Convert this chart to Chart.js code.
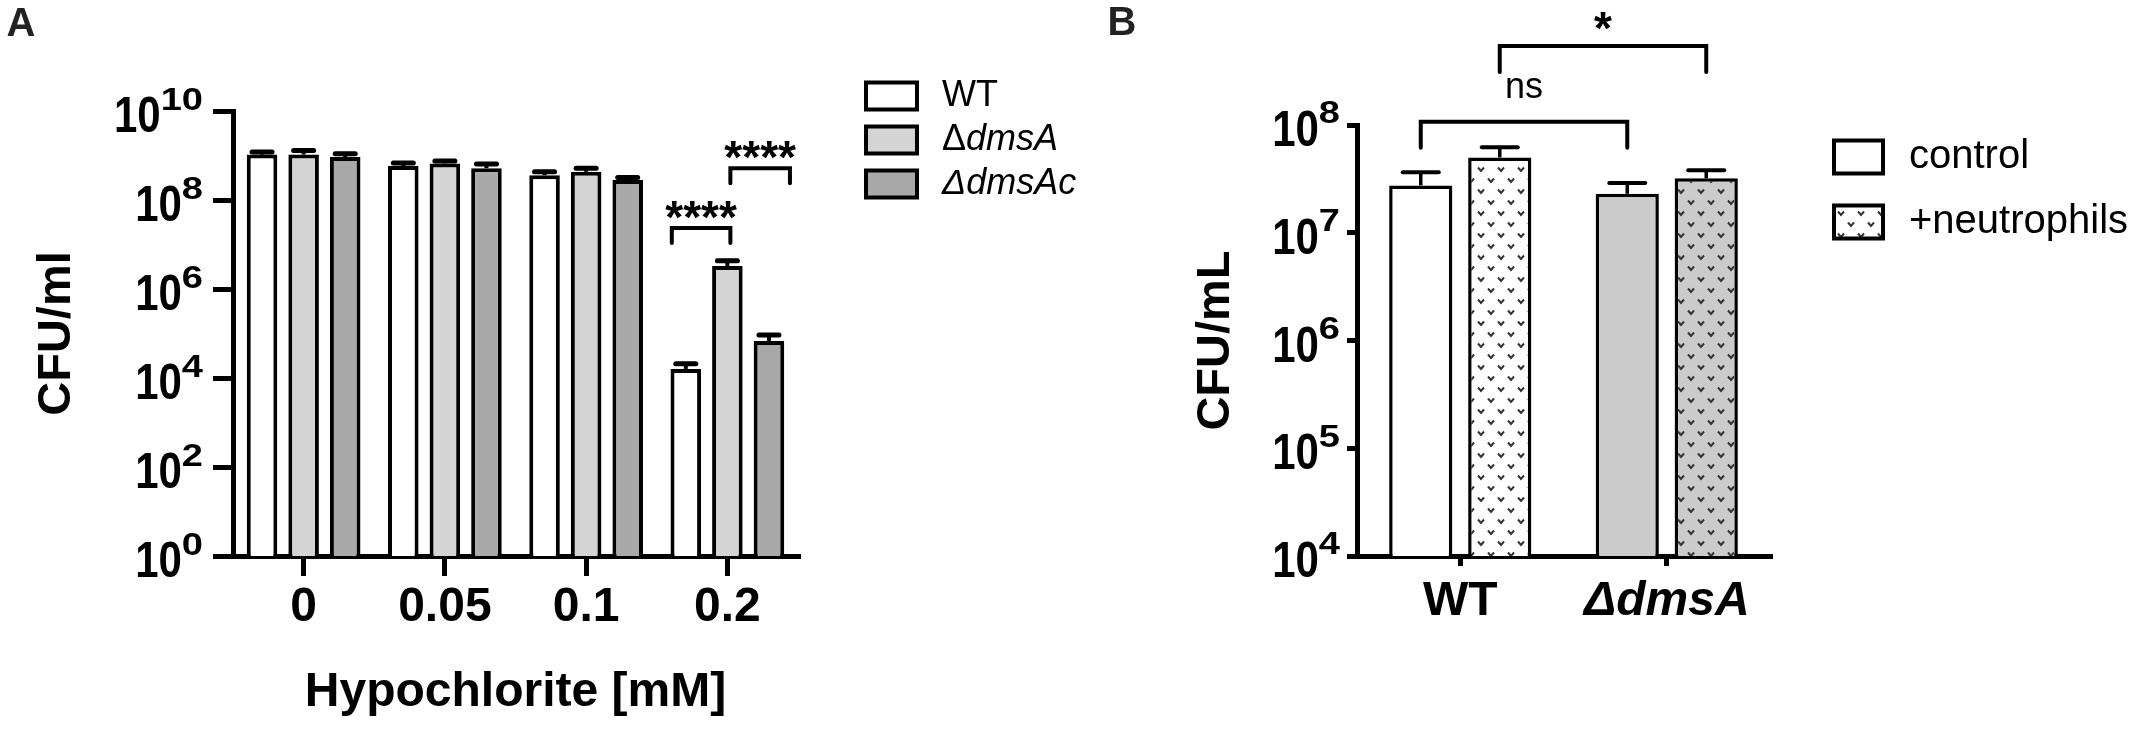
<!DOCTYPE html>
<html>
<head>
<meta charset="utf-8">
<script src="https://cdn.jsdelivr.net/npm/chart.js@4.4.1/dist/chart.umd.min.js"></script>
<style>
  html, body { margin: 0; padding: 0; background: #fff; }
  #wrap { position: relative; width: 2132px; height: 749px; overflow: hidden; }
  .panel { position: absolute; top: 0; height: 749px; }
  #panelA { left: 0; width: 1110px; }
  #panelB { left: 1066px; width: 1066px; }
</style>
</head>
<body>
<div id="wrap">
  <div class="panel" id="panelA"><canvas id="chartA" width="1110" height="749"></canvas></div>
  <div class="panel" id="panelB"><canvas id="chartB" width="1066" height="749"></canvas></div>
</div>
<script>
// ---- panel A : survival after hypochlorite ----
var doseLabels = ['0', '0.05', '0.1', '0.2'];
var wtCfu    = [1.05e9, 5.8e8, 3.6e8, 1.6e4];
var dmsACfu  = [1.05e9, 6.6e8, 4.3e8, 3.3e6];
var dmsAcCfu = [9.2e8, 5.2e8, 2.8e8, 6.8e4];
// upper end of the error bars
var wtTop    = [1.2e9, 6.8e8, 4.3e8, 2.1e4];
var dmsATop  = [1.3e9, 7.5e8, 5.2e8, 4.3e6];
var dmsAcTop = [1.1e9, 6.4e8, 3.2e8, 9.3e4];
var ticksA = [1, 1e2, 1e4, 1e6, 1e8, 1e10];

// ---- panel B : neutrophil killing ----
var strainLabels = ['WT', 'ΔdmsA'];
var controlCfu = [2.75e7, 2.3e7];
var neutroCfu  = [5.0e7, 3.2e7];
var controlTop = [3.65e7, 2.9e7];
var neutroTop  = [6.2e7, 3.8e7];
var ticksB = [1e4, 1e5, 1e6, 1e7, 1e8];

var FONT = "'Liberation Sans', Arial, sans-serif";

function vPattern(bg) {
  var c = document.createElement('canvas');
  c.width = 20; c.height = 22;
  var g = c.getContext('2d');
  g.fillStyle = bg;
  g.fillRect(0, 0, 20, 22);
  g.strokeStyle = '#333';
  g.lineWidth = 2;
  [[5, 4], [15, 15]].forEach(function(p) {
    g.beginPath();
    g.moveTo(p[0] - 3, p[1] - 1.5);
    g.lineTo(p[0], p[1] + 2);
    g.lineTo(p[0] + 3, p[1] - 1.5);
    g.stroke();
  });
  return g.createPattern(c, 'repeat');
}

// error bars (upper whisker only)
var errorBars = {
  id: 'errorBars',
  afterDatasetsDraw: function(chart, args, o) {
    var ctx = chart.ctx, ys = chart.scales.y;
    chart.data.datasets.forEach(function(ds, i) {
      chart.getDatasetMeta(i).data.forEach(function(bar, j) {
        var top = ys.getPixelForValue(ds.errTop[j]);
        ctx.save();
        ctx.strokeStyle = '#000';
        ctx.lineWidth = o.stem;
        ctx.beginPath();
        ctx.moveTo(bar.x, bar.y);
        ctx.lineTo(bar.x, top);
        ctx.stroke();
        ctx.lineWidth = o.cap;
        ctx.lineCap = 'round';
        ctx.beginPath();
        ctx.moveTo(bar.x - o.capW / 2, top);
        ctx.lineTo(bar.x + o.capW / 2, top);
        ctx.stroke();
        ctx.restore();
      });
    });
  }
};

// 10^n tick labels with a real superscript (glyphs are tall and narrow in the figure)
function tallText(ctx, txt, x, y, font, sy) {
  ctx.save();
  ctx.translate(x, y);
  ctx.scale(1, sy);
  ctx.font = font;
  ctx.fillText(txt, 0, 0);
  ctx.restore();
}

var powerTicks = {
  id: 'powerTicks',
  afterDraw: function(chart, args, o) {
    var ctx = chart.ctx, ys = chart.scales.y;
    var mainFont = 'bold ' + o.size + 'px ' + FONT;
    var supFont = 'bold ' + o.sup + 'px ' + FONT;
    var mainH = o.size * 0.716 * o.sy;
    var supH = o.sup * 0.716 * o.supSy;
    ctx.save();
    ctx.fillStyle = '#000';
    ctx.textBaseline = 'alphabetic';
    ctx.textAlign = 'left';
    ys.ticks.forEach(function(t) {
      var py = ys.getPixelForValue(t.value);
      var exp = String(Math.round(Math.log10(t.value)));
      ctx.font = supFont;
      var ew = ctx.measureText(exp).width;
      ctx.font = mainFont;
      var bw = ctx.measureText('10').width;
      var right = chart.chartArea.left - o.tick - o.gap;
      var base = py + mainH / 2 + 3;
      tallText(ctx, '10', right - ew - bw, base, mainFont, o.sy);
      tallText(ctx, exp, right - ew, base - mainH - o.raise + supH, supFont, o.supSy);
    });
    ctx.restore();
  }
};

// panel letter, legend and significance brackets
var extras = {
  id: 'extras',
  afterDraw: function(chart, args, o) {
    var ctx = chart.ctx, ys = chart.scales.y;
    ctx.save();
    ctx.fillStyle = '#222';
    ctx.font = 'bold 40px ' + FONT;
    ctx.textAlign = 'center';
    ctx.textBaseline = 'middle';
    ctx.fillText(o.letter, o.letterX, o.letterY);

    // legend
    chart.data.datasets.forEach(function(ds, i) {
      var y = o.legY + i * o.legStep;
      var fill = Array.isArray(ds.backgroundColor) ? ds.backgroundColor[0] : ds.backgroundColor;
      ctx.fillStyle = fill;
      ctx.fillRect(o.legX, y - o.boxH / 2, o.boxW, o.boxH);
      ctx.strokeStyle = '#000';
      ctx.lineWidth = 4;
      ctx.strokeRect(o.legX, y - o.boxH / 2, o.boxW, o.boxH);
      ctx.fillStyle = '#000';
      ctx.textAlign = 'left';
      ctx.textBaseline = 'middle';
      var tx = o.legX + o.boxW + o.textGap;
      var style = o.legItalic[i];
      if (style === 'none') {
        ctx.font = o.legSize + 'px ' + FONT;
        ctx.fillText(ds.label, tx, y);
      } else if (style === 'afterDelta') {
        ctx.font = o.legSize + 'px ' + FONT;
        ctx.fillText(ds.label[0], tx, y);
        var dw = ctx.measureText(ds.label[0]).width;
        ctx.font = 'italic ' + o.legSize + 'px ' + FONT;
        ctx.fillText(ds.label.slice(1), tx + dw, y);
      } else {
        ctx.font = 'italic ' + o.legSize + 'px ' + FONT;
        ctx.fillText(ds.label, tx, y);
      }
    });

    // brackets
    o.brackets.forEach(function(b) {
      var x1 = chart.getDatasetMeta(b.from[0]).data[b.from[1]].x + b.dx[0];
      var x2 = chart.getDatasetMeta(b.to[0]).data[b.to[1]].x + b.dx[1];
      var yb = ys.getPixelForValue(b.level);
      ctx.strokeStyle = '#000';
      ctx.lineWidth = 4;
      ctx.lineCap = 'round';
      ctx.beginPath();
      ctx.moveTo(x1, yb + b.leg);
      ctx.lineTo(x1, yb);
      ctx.lineTo(x2, yb);
      ctx.lineTo(x2, yb + b.leg);
      ctx.stroke();
      ctx.fillStyle = '#000';
      ctx.textAlign = 'center';
      ctx.textBaseline = 'alphabetic';
      ctx.font = b.font;
      ctx.fillText(b.text, (x1 + x2) / 2, yb + b.textDy);
    });
    ctx.restore();
  }
};

function axisStyle(tickLen) {
  return {
    grid: { display: true, drawOnChartArea: false, drawTicks: true, tickLength: tickLen,
            offset: false, color: '#000', lineWidth: 5 },
    border: { display: true, color: '#000', width: 5 }
  };
}

var xA = axisStyle(20), yA = axisStyle(20);
var chartA = new Chart(document.getElementById('chartA'), {
  type: 'bar',
  data: {
    labels: doseLabels,
    datasets: [
      { label: 'WT', data: wtCfu, errTop: wtTop, backgroundColor: '#ffffff' },
      { label: 'ΔdmsA', data: dmsACfu, errTop: dmsATop, backgroundColor: '#d4d4d4' },
      { label: 'ΔdmsAc', data: dmsAcCfu, errTop: dmsAcTop, backgroundColor: '#a9a9a9' }
    ]
  },
  options: {
    responsive: false,
    animation: false,
    events: [],
    layout: { padding: { top: 111, right: 312, left: 0, bottom: 0 } },
    datasets: { bar: { borderColor: '#000', borderWidth: 4, categoryPercentage: 0.883, barPercentage: 0.735 } },
    plugins: {
      legend: { display: false },
      tooltip: { enabled: false },
      errorBars: { stem: 4, cap: 5, capW: 20 },
      powerTicks: { size: 42, sy: 1.2, sup: 38, supSy: 0.82, raise: 8, tick: 20, gap: 10 },
      extras: {
        letter: 'A', letterX: 21, letterY: 25,
        legX: 866, legY: 96, legStep: 44, boxW: 51, boxH: 27, textGap: 25, legSize: 36,
        legItalic: ['none', 'afterDelta', 'all'],
        brackets: [
          { from: [0, 3], to: [1, 3], dx: [-14, 3], level: 2.35e7, leg: 15,
            text: '****', font: 'bold 46px ' + FONT, textDy: 5 },
          { from: [1, 3], to: [2, 3], dx: [3, 21], level: 5.2e8, leg: 15,
            text: '****', font: 'bold 46px ' + FONT, textDy: 5 }
        ]
      }
    },
    scales: {
      x: {
        type: 'category', offset: true,
        grid: xA.grid, border: xA.border,
        ticks: { color: '#000', padding: 3, maxRotation: 0, font: { family: FONT, size: 48, weight: 'bold' } },
        title: { display: true, text: 'Hypochlorite [mM]', color: '#000',
                 font: { family: FONT, size: 48, weight: 'bold' }, padding: { top: 0, bottom: 27 } },
        afterFit: function(s) { s.height = 193; }
      },
      y: {
        type: 'logarithmic', min: 1, max: 1e10,
        afterBuildTicks: function(s) { s.ticks = ticksA.map(function(v) { return { value: v }; }); },
        grid: yA.grid, border: yA.border,
        ticks: { display: false },
        title: { display: true, text: 'CFU/ml', color: '#000',
                 font: { family: FONT, size: 47, weight: 'bold' }, padding: { top: 29, bottom: 0 } },
        afterFit: function(s) { s.width = 233; }
      }
    }
  },
  plugins: [errorBars, powerTicks, extras]
});

var xB = axisStyle(10), yB = axisStyle(10);
var chartB = new Chart(document.getElementById('chartB'), {
  type: 'bar',
  data: {
    labels: strainLabels,
    datasets: [
      { label: 'control', data: controlCfu, errTop: controlTop,
        backgroundColor: ['#ffffff', '#cbcbcb'] },
      { label: '+neutrophils', data: neutroCfu, errTop: neutroTop,
        backgroundColor: [vPattern('#ffffff'), vPattern('#cbcbcb')] }
    ]
  },
  options: {
    responsive: false,
    animation: false,
    events: [],
    layout: { padding: { top: 125, right: 362, left: 0, bottom: 0 } },
    datasets: { bar: { borderColor: '#000', borderWidth: 3.5, categoryPercentage: 0.765, barPercentage: 0.8 } },
    plugins: {
      legend: { display: false },
      tooltip: { enabled: false },
      errorBars: { stem: 3.5, cap: 4, capW: 36 },
      powerTicks: { size: 42, sy: 1.2, sup: 38, supSy: 0.82, raise: 9, tick: 10, gap: 7 },
      extras: {
        letter: 'B', letterX: 56, letterY: 24,
        legX: 768, legY: 157, legStep: 65, boxW: 49, boxH: 33, textGap: 26, legSize: 40,
        legItalic: ['none', 'none'],
        brackets: [
          { from: [0, 0], to: [0, 1], dx: [0, 0], level: 1.07e8, leg: 26,
            text: 'ns', font: '36px ' + FONT, textDy: -24 },
          { from: [1, 0], to: [1, 1], dx: [0, 0], level: 5.4e8, leg: 26,
            text: '*', font: 'bold 46px ' + FONT, textDy: -2 }
        ]
      }
    },
    scales: {
      x: {
        type: 'category', offset: true,
        grid: xB.grid, border: xB.border,
        ticks: { color: '#000', padding: 7, maxRotation: 0,
                 font: function(c) {
                   return { family: FONT, size: 48, weight: 'bold', style: c.index === 1 ? 'italic' : 'normal' };
                 } },
        afterFit: function(s) { s.height = 193; }
      },
      y: {
        type: 'logarithmic', min: 1e4, max: 1e8,
        afterBuildTicks: function(s) { s.ticks = ticksB.map(function(v) { return { value: v }; }); },
        grid: yB.grid, border: yB.border,
        ticks: { display: false },
        title: { display: true, text: 'CFU/mL', color: '#000',
                 font: { family: FONT, size: 47, weight: 'bold' }, padding: { top: 122, bottom: 0 } },
        afterFit: function(s) { s.width = 291; }
      }
    }
  },
  plugins: [errorBars, powerTicks, extras]
});
</script>
</body>
</html>
